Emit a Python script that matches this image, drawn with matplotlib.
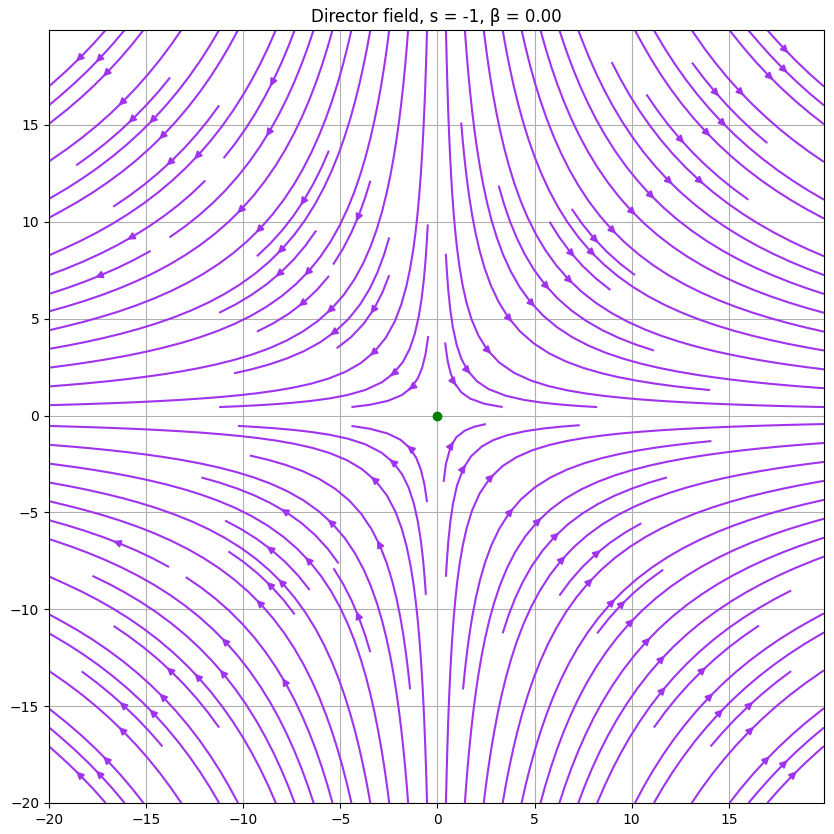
import numpy as np
import matplotlib
matplotlib.use("Agg")
import matplotlib.pyplot as plt

# defect parameters
s = -1
beta = 0.0

# sampling grid
x = np.arange(-20, 20, 0.1)
y = np.arange(-20, 20, 0.1)
X, Y = np.meshgrid(x, y)

# director angle theta = s*phi + beta
phi = np.arctan2(Y, X)
theta = s * phi + beta
U = np.cos(theta)
V = np.sin(theta)

fig = plt.figure(figsize=(8.34, 8.34), dpi=100)
ax = fig.add_axes([49/834, 31/834, 775/834, 773/834])
ax.streamplot(X, Y, U, V, color='#a033ee', linewidth=1.5, density=1.4)
ax.plot(0, 0, 'go')
ax.set_title(f"Director field, s = {s}, \u03b2 = {beta:.2f}")
ax.grid(True)
ax.set_axisbelow(True)
fig.savefig("out.png", dpi=100)
